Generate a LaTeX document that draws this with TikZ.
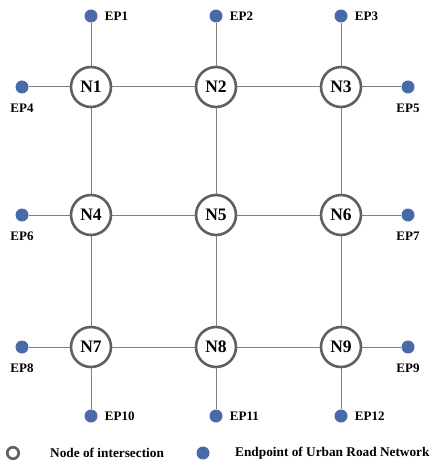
\documentclass[tikz,border=0pt]{standalone}
\usepackage{fontspec}
\setmainfont{Liberation Serif}
\usepackage{xcolor}
\usetikzlibrary{positioning}
\definecolor{roadgray}{HTML}{808080}
\definecolor{ringgray}{HTML}{606060}
\definecolor{epblue}{HTML}{4A69A8}
\tikzset{
  road/.style={draw=roadgray, line width=1pt},
  inter/.style={circle, draw=ringgray, fill=white, line width=2.6pt, minimum size=40pt, inner sep=0pt, font=\fontsize{17.5}{18}\selectfont\bfseries},
  endp/.style={circle, fill=epblue, minimum size=13pt, inner sep=0pt},
  lab/.style={font=\fontsize{13}{13}\selectfont\bfseries, inner sep=0pt},
  legtxt/.style={font=\fontsize{13.3}{14}\selectfont\bfseries, inner sep=0pt, anchor=west}
}

\begin{document}
\begin{tikzpicture}[x=1pt, y=-1pt]
  % page frame: 1 unit = 1 px of the reference
  \useasboundingbox (0,0) rectangle (434,465);

  % intersections
  \node[inter] (N1) at (91,87)  {N1};
  \node[inter] (N2) at (216,87) {N2};
  \node[inter] (N3) at (341,87) {N3};
  \node[inter] (N4) at (91,215)  {N4};
  \node[inter] (N5) at (216,215) {N5};
  \node[inter] (N6) at (341,215) {N6};
  \node[inter] (N7) at (91,347)  {N7};
  \node[inter] (N8) at (216,347) {N8};
  \node[inter] (N9) at (341,347) {N9};

  % endpoints, top and bottom
  \node[endp, label={[lab, label distance=7pt]right:EP1}] (EP1) at (91,16) {};
  \node[endp, label={[lab, label distance=7pt]right:EP2}] (EP2) at (216,16) {};
  \node[endp, label={[lab, label distance=7pt]right:EP3}] (EP3) at (341,16) {};
  \node[endp, label={[lab, label distance=7pt]right:EP10}] (EP10) at (91,416) {};
  \node[endp, label={[lab, label distance=7pt]right:EP11}] (EP11) at (216,416) {};
  \node[endp, label={[lab, label distance=7pt]right:EP12}] (EP12) at (341,416) {};

  % endpoints, left and right
  \node[endp, label={[lab, label distance=10pt]below:EP4}] (EP4) at (22,87) {};
  \node[endp, label={[lab, label distance=10pt]below:EP6}] (EP6) at (22,215) {};
  \node[endp, label={[lab, label distance=10pt]below:EP8}] (EP8) at (22,347) {};
  \node[endp, label={[lab, label distance=10pt]below:EP5}] (EP5) at (408,87) {};
  \node[endp, label={[lab, label distance=10pt]below:EP7}] (EP7) at (408,215) {};
  \node[endp, label={[lab, label distance=10pt]below:EP9}] (EP9) at (408,347) {};

  % roads between intersections
  \draw[road] (N1) -- (N2);
  \draw[road] (N2) -- (N3);
  \draw[road] (N4) -- (N5);
  \draw[road] (N5) -- (N6);
  \draw[road] (N7) -- (N8);
  \draw[road] (N8) -- (N9);
  \draw[road] (N1) -- (N4);
  \draw[road] (N4) -- (N7);
  \draw[road] (N2) -- (N5);
  \draw[road] (N5) -- (N8);
  \draw[road] (N3) -- (N6);
  \draw[road] (N6) -- (N9);

  % roads out to the endpoints
  \draw[road] (EP1) -- (N1);
  \draw[road] (EP2) -- (N2);
  \draw[road] (EP3) -- (N3);
  \draw[road] (EP4) -- (N1);
  \draw[road] (EP5) -- (N3);
  \draw[road] (EP6) -- (N4);
  \draw[road] (EP7) -- (N6);
  \draw[road] (EP8) -- (N7);
  \draw[road] (EP9) -- (N9);
  \draw[road] (EP10) -- (N7);
  \draw[road] (EP11) -- (N8);
  \draw[road] (EP12) -- (N9);

  % legend
  \node[circle, draw=ringgray, line width=2.6pt, minimum size=11.5pt, inner sep=0pt] (legN) at (13,453) {};
  \node[legtxt] (legNtxt) at (50,453) {Node of intersection};
  \node[endp] (legE) at (203,453) {};
  \node[legtxt] (legEtxt) at (235,453) {Endpoint of Urban Road Network};
\end{tikzpicture}
\end{document}
